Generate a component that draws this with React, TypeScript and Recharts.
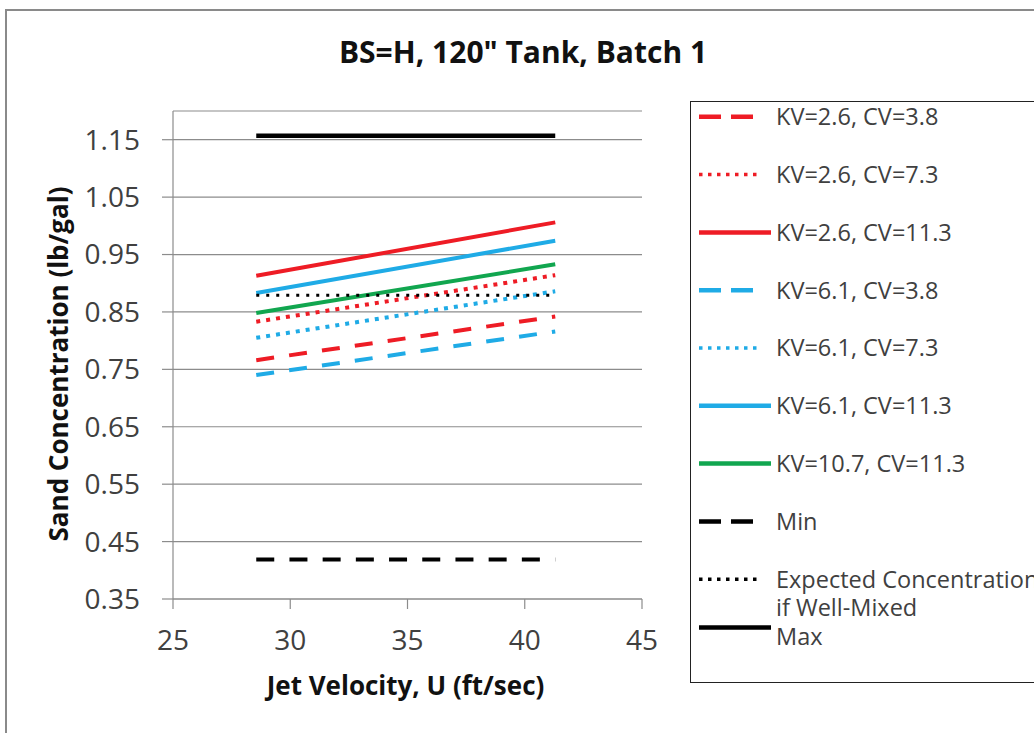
import { LineChart, Line, XAxis, YAxis, CartesianGrid, Label } from 'recharts'

// jet velocity range covered by every series (ft/sec)
const jetVelocity = [28.55, 41.3]

// sand concentration (lb/gal) at the start and end of the velocity range
const kv26cv38 = [0.766, 0.842]
const kv26cv73 = [0.833, 0.914]
const kv26cv113 = [0.913, 1.006]
const kv61cv38 = [0.74, 0.816]
const kv61cv73 = [0.805, 0.886]
const kv61cv113 = [0.883, 0.974]
const kv107cv113 = [0.848, 0.933]
const minConc = [0.419, 0.419]
const expectedConc = [0.879, 0.879]
const maxConc = [1.157, 1.157]

const X_TICKS = [25, 30, 35, 40, 45]
const Y_TICKS = [0.35, 0.45, 0.55, 0.65, 0.75, 0.85, 0.95, 1.05, 1.15]

const RED = '#ee1c25'
const BLUE = '#1fabe6'
const GREEN = '#11a64f'
const BLACK = '#000000'
const GRID = '#8c8c8c'
const TEXT = '#404040'
const FONT = '"Open Sans", sans-serif'

type Style = 'dash' | 'dot' | 'solid'

const SERIES: { name: string; values: number[]; color: string; style: Style }[] = [
  { name: 'KV=2.6, CV=3.8', values: kv26cv38, color: RED, style: 'dash' },
  { name: 'KV=2.6, CV=7.3', values: kv26cv73, color: RED, style: 'dot' },
  { name: 'KV=2.6, CV=11.3', values: kv26cv113, color: RED, style: 'solid' },
  { name: 'KV=6.1, CV=3.8', values: kv61cv38, color: BLUE, style: 'dash' },
  { name: 'KV=6.1, CV=7.3', values: kv61cv73, color: BLUE, style: 'dot' },
  { name: 'KV=6.1, CV=11.3', values: kv61cv113, color: BLUE, style: 'solid' },
  { name: 'KV=10.7, CV=11.3', values: kv107cv113, color: GREEN, style: 'solid' },
  { name: 'Min', values: minConc, color: BLACK, style: 'dash' },
  { name: 'Expected Concentration\nif Well-Mixed', values: expectedConc, color: BLACK, style: 'dot' },
  { name: 'Max', values: maxConc, color: BLACK, style: 'solid' },
]

function lineProps(color: string, style: Style) {
  if (style === 'dash') return { strokeWidth: 4, strokeDasharray: '18 15.2' }
  if (style === 'dot') {
    if (color === BLACK) return { strokeWidth: 3, strokeDasharray: '3 7' }
    return { strokeWidth: 4, strokeDasharray: '4 6' }
  }
  return { strokeWidth: color === BLACK ? 4.5 : 4 }
}

function LegendBox() {
  const rowGap = 57.8
  const firstRow = 14.8
  return (
    <div
      style={{
        position: 'absolute',
        left: 690,
        top: 101,
        width: 420,
        height: 580,
        border: '1.5px solid #222',
        background: '#fff',
        fontFamily: FONT,
        fontSize: 23.5,
        color: TEXT,
      }}
    >
      <svg width={90} height={580} style={{ position: 'absolute', left: 0, top: 0 }}>
        {SERIES.map((s, i) => {
          const y = firstRow + i * rowGap - (s.name === 'Max' ? 9.5 : 0)
          const len = s.style === 'dash' ? 54 : s.style === 'dot' ? 63 : 72
          const props =
            s.style === 'dash'
              ? { strokeWidth: 4.5, strokeDasharray: '22 10' }
              : s.style === 'dot'
              ? { strokeWidth: 3.5, strokeDasharray: '3.5 5.5' }
              : { strokeWidth: 4.5 }
          return <line key={s.name} x1={8} x2={8 + len} y1={y} y2={y} stroke={s.color} {...props} />
        })}
      </svg>
      {SERIES.map((s, i) => (
        <div
          key={s.name}
          style={{
            position: 'absolute',
            left: 85,
            top: firstRow + i * rowGap - 14.7,
            lineHeight: '28px',
            whiteSpace: 'pre',
          }}
        >
          {s.name}
        </div>
      ))}
    </div>
  )
}

export default function App() {
  return (
    <div
      style={{
        position: 'absolute',
        left: 0,
        top: 0,
        width: 1034,
        height: 733,
        overflow: 'hidden',
        background: '#fff',
      }}
    >
      <div
        style={{
          position: 'absolute',
          left: 5,
          top: 9,
          width: 1100,
          height: 800,
          borderTop: '2px solid #8a8a8a',
          borderLeft: '2px solid #8a8a8a',
        }}
      />
      <div
        style={{
          position: 'absolute',
          left: 0,
          top: 37,
          width: 1046,
          textAlign: 'center',
          fontFamily: FONT,
          fontWeight: 700,
          fontSize: 30,
          lineHeight: '30px',
          color: '#111',
        }}
      >
        BS=H, 120" Tank, Batch 1
      </div>
      <div style={{ position: 'absolute', left: 0, top: 0 }}>
        <LineChart width={1034} height={733} margin={{ top: 111, right: 392, left: 53, bottom: 74 }}>
          <CartesianGrid vertical={false} stroke={GRID} strokeWidth={1.2} />
          <XAxis
            dataKey="x"
            type="number"
            domain={[25, 45]}
            ticks={X_TICKS}
            height={60}
            tickSize={10}
            tickMargin={21}
            axisLine={{ stroke: GRID, strokeWidth: 1.2 }}
            tickLine={{ stroke: GRID, strokeWidth: 1.2 }}
            tick={{ fontSize: 28, fill: TEXT, fontFamily: FONT }}
            allowDuplicatedCategory={false}
          >
            <Label
              content={(p: any) => {
                const vb = p.viewBox
                return (
                  <text
                    x={vb.x + vb.width / 2 - 2}
                    y={695}
                    textAnchor="middle"
                    fontFamily={FONT}
                    fontWeight={700}
                    fontSize={26}
                    fill="#111"
                  >
                    Jet Velocity, U (ft/sec)
                  </text>
                )
              }}
            />
          </XAxis>
          <YAxis
            type="number"
            domain={[0.35, 1.2]}
            ticks={Y_TICKS}
            width={120}
            tickSize={11}
            tickMargin={22}
            axisLine={{ stroke: GRID, strokeWidth: 1.2 }}
            tickLine={{ stroke: GRID, strokeWidth: 1.2 }}
            tick={{ fontSize: 28, fill: TEXT, fontFamily: FONT }}
            tickFormatter={(v: number) => v.toFixed(2)}
          >
            <Label
              content={(p: any) => {
                const vb = p.viewBox
                const cy = vb.y + vb.height / 2 + 9
                return (
                  <text
                    x={68}
                    y={cy}
                    transform={`rotate(-90, 68, ${cy})`}
                    textAnchor="middle"
                    fontFamily={FONT}
                    fontWeight={700}
                    fontSize={26}
                    fill="#111"
                  >
                    Sand Concentration (lb/gal)
                  </text>
                )
              }}
            />
          </YAxis>
          {SERIES.map((s) => (
            <Line
              key={s.name}
              name={s.name}
              data={jetVelocity.map((x, i) => ({ x, y: s.values[i] }))}
              dataKey="y"
              stroke={s.color}
              {...lineProps(s.color, s.style)}
              dot={false}
              activeDot={false}
              isAnimationActive={false}
            />
          ))}
        </LineChart>
      </div>
      <LegendBox />
    </div>
  )
}
